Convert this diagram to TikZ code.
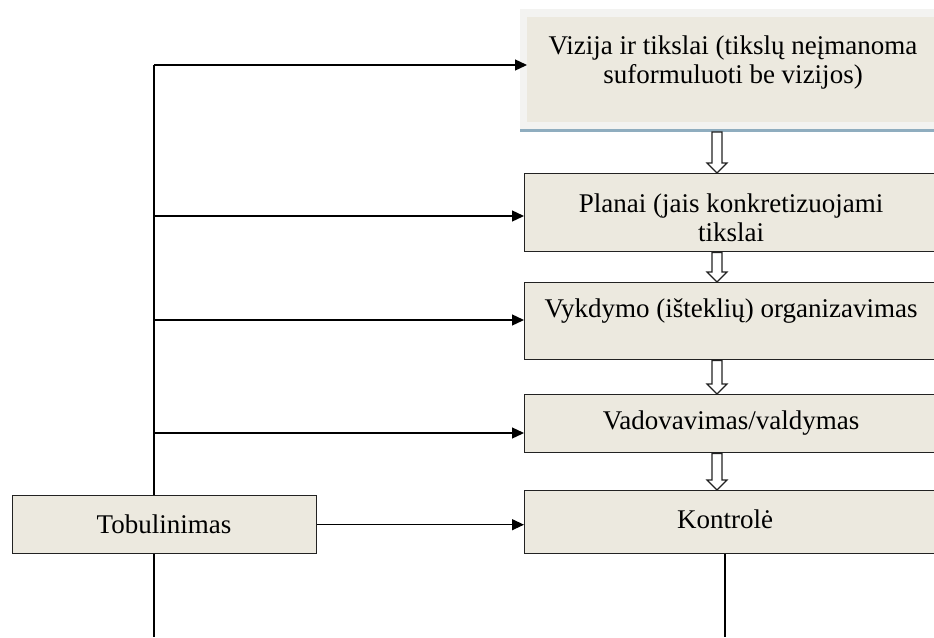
\documentclass[tikz,border=0pt]{standalone}
\usepackage{fontspec}
\setmainfont{Liberation Serif}
\usetikzlibrary{arrows.meta,calc}
\definecolor{boxfill}{HTML}{ECE9DF}
\definecolor{frame}{HTML}{F3F3F1}
\definecolor{blueline}{HTML}{8FADBF}
\definecolor{edge}{HTML}{222222}
\tikzset{
  stepbox/.style={draw=edge, line width=1.4pt, fill=boxfill, rectangle, inner sep=0pt, anchor=north west},
  txt/.style={font=\fontsize{27}{29}\selectfont, align=center, inner sep=0pt, text=black},
  conn/.style={draw=black, line width=1.3pt},
  arr/.style={conn, -{Triangle[length=12pt,width=11pt]}},
  harrow/.style={draw=edge, line width=1.2pt, fill=white, line join=miter},
}
\newcommand\harrowdraw[2]{\draw[harrow] let \p1=(#1), \p2=(#2) in
  (\x1-5pt,\y1) -- (\x1-5pt,\y2+10pt) -- (\x1-10pt,\y2+10pt) -- (\x1,\y2)
  -- (\x1+10pt,\y2+10pt) -- (\x1+5pt,\y2+10pt) -- (\x1+5pt,\y1) -- cycle;}
\begin{document}
\begin{tikzpicture}[x=1pt,y=-1pt]
\useasboundingbox (0,0) rectangle (934,637);
\coordinate (ax) at (717,0);
% top box (shadowed frame)
\fill[frame] (520,9) rectangle (942,129);
\node[fill=boxfill, rectangle, inner sep=0pt, anchor=north west, minimum width=415pt, minimum height=105pt] (viz) at (527,17) {};
\draw[blueline, line width=2.6pt] (520,130.5) -- (942,130.5);
\coordinate (vizb) at (717,132);
\node[txt] (vizt) at (733,63) {Vizija ir tikslai (tikslų neįmanoma\\suformuluoti be vizijos)};
% right column boxes
\node[stepbox, minimum width=418pt, minimum height=78pt] (plan) at (524,173) {};
\node[txt] (plant) at (731,218) {Planai (jais konkretizuojami\\tikslai};
\node[stepbox, minimum width=418pt, minimum height=77pt] (vyk) at (524,282) {};
\node[txt] (vykt) at (731,311) {Vykdymo (išteklių) organizavimas};
\node[stepbox, minimum width=418pt, minimum height=58pt] (vad) at (524,394) {};
\node[txt] (vadt) at (731,423) {Vadovavimas/valdymas};
\node[stepbox, minimum width=418pt, minimum height=63pt] (kon) at (524,490) {};
\node[txt] (kont) at (725,519) {Kontrolė};
% left box
\node[stepbox, minimum width=304pt, minimum height=58pt] (tob) at (12,495) {};
\node[txt] (tobt) at (164,524) {Tobulinimas};
% hollow arrows
\harrowdraw{vizb}{plan.north -| ax}
\harrowdraw{plan.south -| ax}{vyk.north -| ax}
\harrowdraw{vyk.south -| ax}{vad.north -| ax}
\harrowdraw{vad.south -| ax}{kon.north -| ax}
% left feedback lines
\coordinate (lt) at (154,65);
\coordinate (lb) at (154,637);
\coordinate (kb) at (725,637);
\draw[conn] (tob.north -| lt) -- (lt);
\draw[arr] (lt) -- (lt -| viz.west);
\draw[arr] (154,216) -- (154,216 -| plan.west);
\draw[arr] (154,320) -- (154,320 -| vyk.west);
\draw[arr] (154,433) -- (154,433 -| vad.west);
\draw[arr] (tob.east) -- (tob.east -| kon.west);
\draw[conn] (tob.south -| lb) -- (lb);
\draw[conn] (kon.south -| kb) -- (kb);
\end{tikzpicture}
\end{document}
